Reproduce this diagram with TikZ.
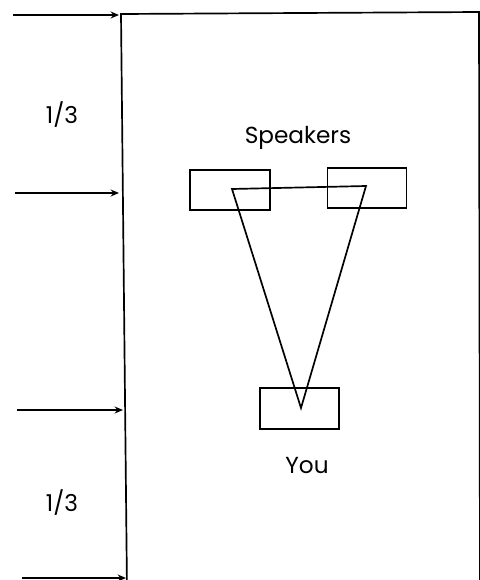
\documentclass[tikz,border=0pt]{standalone}
\usepackage{fontspec}
\setmainfont{Poppins}
\usetikzlibrary{arrows.meta}

\begin{document}
\begin{tikzpicture}[x=0.025cm, y=-0.025cm, line width=1.2pt,
    box/.style={draw, rectangle, inner sep=0pt},
    pointer/.style={-{Stealth[length=6pt,width=5pt]}, line width=1pt},
    lbl/.style={font=\fontsize{16.5}{20}\selectfont}]
  \useasboundingbox (0,0) rectangle (480,580);
  % the room
  \draw (127,590) -- (121,14) -- (479,12) -- (480,590);
  \coordinate (w1) at (119,15);
  \coordinate (w2) at (119,193);
  \coordinate (w3) at (123,410);
  \coordinate (w4) at (126,578);
  \coordinate (s1) at (13,15);
  \coordinate (s2) at (15,193);
  \coordinate (s3) at (17,410);
  \coordinate (s4) at (22,578);
  \foreach \i in {1,...,4}
    \draw[pointer] (s\i) -- (w\i);
  \node[lbl] (third1) at (62,115) {1/3};
  \node[lbl] (third2) at (62,503) {1/3};
  % speakers and listener
  \node[box, minimum width=2cm, minimum height=1cm] (left) at (230,190) {};
  \node[box, minimum width=1.975cm, minimum height=1cm] (right) at (367,188) {};
  \node[box, minimum width=1.975cm, minimum height=1.025cm] (you) at (299.5,408.5) {};
  \node[lbl] (spk) at (298,138) {Speakers};
  \node[lbl] (yl) at (307,466) {You};
  \coordinate (a) at (232,189);
  \coordinate (b) at (366,186);
  \coordinate (c) at (301,408);
  \draw (a) -- (b) -- (c) -- cycle;
\end{tikzpicture}
\end{document}
